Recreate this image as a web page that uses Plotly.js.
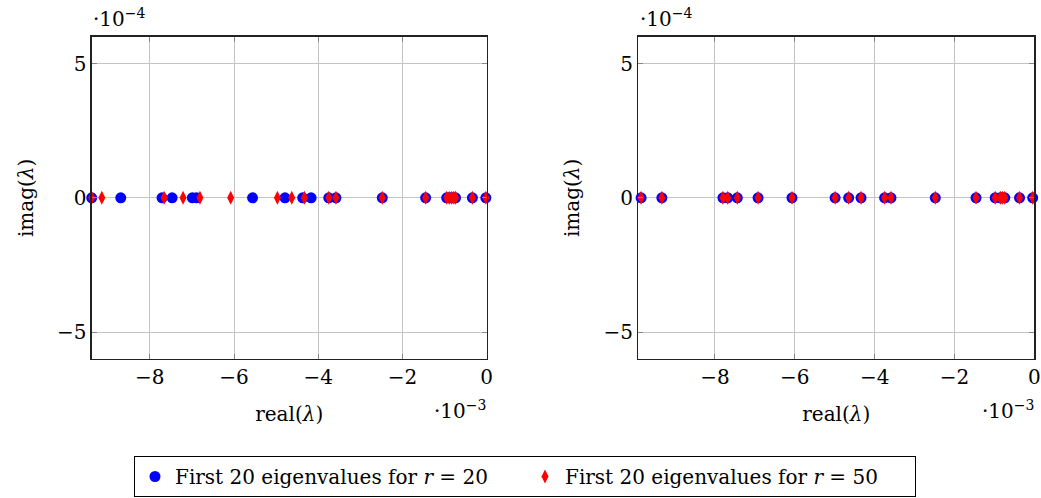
<!DOCTYPE html>
<html>
<head>
<meta charset="utf-8">
<script src="https://cdn.plot.ly/plotly-3.0.1.min.js"></script>
<style>html,body{margin:0;padding:0;background:#fff;}#chart{width:1041px;height:498px;}</style>
</head>
<body>
<div id="chart"></div>
<script>
// Real parts in units of 1e-3, imaginary parts in units of 1e-4 (axis multipliers shown as labels)
const leftReal_r20 = [-9.38, -8.69, -7.71, -7.47, -6.99, -6.89, -5.56, -4.79, -4.37, -4.17,
                      -3.75, -3.58, -2.48, -1.45, -0.95, -0.89, -0.83, -0.74, -0.34, -0.02];
const leftImag_r20 = [0, 0, 0, 0, 0, 0, 0, 0, 0, 0, 0, 0, 0, 0, 0, 0, 0, 0, 0, 0];
const leftReal_r50 = [-9.38, -9.14, -7.66, -7.21, -6.81, -6.08, -4.97, -4.63, -4.33, -3.75,
                      -3.58, -2.48, -1.45, -0.95, -0.89, -0.83, -0.78, -0.74, -0.34, -0.02];
const leftImag_r50 = [0, 0, 0, 0, 0, 0, 0, 0, 0, 0, 0, 0, 0, 0, 0, 0, 0, 0, 0, 0];
const rightReal_r20 = [-9.85, -9.33, -7.80, -7.68, -7.44, -6.92, -6.07, -4.99, -4.65, -4.34,
                       -3.75, -3.59, -2.48, -1.46, -0.98, -0.85, -0.80, -0.74, -0.37, -0.04];
const rightImag_r20 = [0, 0, 0, 0, 0, 0, 0, 0, 0, 0, 0, 0, 0, 0, 0, 0, 0, 0, 0, 0];
const rightReal_r50 = [-9.85, -9.33, -7.80, -7.68, -7.44, -6.92, -6.07, -4.99, -4.65, -4.34,
                       -3.75, -3.59, -2.48, -1.46, -0.98, -0.85, -0.80, -0.74, -0.37, -0.04];
const rightImag_r50 = [0, 0, 0, 0, 0, 0, 0, 0, 0, 0, 0, 0, 0, 0, 0, 0, 0, 0, 0, 0];

const seriesNames = ['First 20 eigenvalues for <i>r</i> = 20', 'First 20 eigenvalues for <i>r</i> = 50'];
const xTicks = [-8, -6, -4, -2, 0];
const yTicks = [-5, 0, 5];
const xMultiplier = '·10<sup>−3</sup>';
const yMultiplier = '·10<sup>−4</sup>';

const FONT = 'DejaVu Serif';
const FS = 20;
const W = 1041, H = 498;

const blueMarker = {symbol: 'circle', size: 11, color: '#0000ff', line: {width: 0}};
const redMarker = {symbol: 'diamond-tall', size: 10, color: '#ff0000', line: {width: 0}};

const traces = [
  {x: leftReal_r20, y: leftImag_r20, xaxis: 'x', yaxis: 'y', mode: 'markers', name: seriesNames[0], marker: blueMarker, cliponaxis: false, showlegend: true},
  {x: leftReal_r50, y: leftImag_r50, xaxis: 'x', yaxis: 'y', mode: 'markers', name: seriesNames[1], marker: redMarker, cliponaxis: false, showlegend: true},
  {x: rightReal_r20, y: rightImag_r20, xaxis: 'x2', yaxis: 'y2', mode: 'markers', name: seriesNames[0], marker: blueMarker, cliponaxis: false, showlegend: false},
  {x: rightReal_r50, y: rightImag_r50, xaxis: 'x2', yaxis: 'y2', mode: 'markers', name: seriesNames[1], marker: redMarker, cliponaxis: false, showlegend: false}
];

function xAxis(domain, range, anchor) {
  return {
    domain: domain, range: range, anchor: anchor,
    tickmode: 'array', tickvals: xTicks, ticktext: xTicks.map(v => v < 0 ? '−' + Math.abs(v) : String(v)),
    showgrid: true, gridcolor: '#c4c4c4', gridwidth: 1, zeroline: false,
    showline: true, linecolor: '#222', linewidth: 1.3, mirror: 'ticks',
    ticks: 'inside', ticklen: 5, tickcolor: '#888', tickwidth: 1,
    tickfont: {family: FONT, size: FS, color: '#000'},
    title: {text: 'real(<i>λ</i>)', font: {family: FONT, size: FS, color: '#000'}, standoff: 18},
    fixedrange: true
  };
}
function yAxis(domain, anchor) {
  return {
    domain: domain, range: [-6, 6], anchor: anchor,
    tickmode: 'array', tickvals: yTicks, ticktext: yTicks.map(v => v < 0 ? '−' + Math.abs(v) : String(v)),
    showgrid: true, gridcolor: '#c4c4c4', gridwidth: 1, zeroline: false,
    showline: true, linecolor: '#222', linewidth: 1.3, mirror: 'ticks',
    ticks: 'inside', ticklen: 5, tickcolor: '#888', tickwidth: 1,
    tickfont: {family: FONT, size: FS, color: '#000'},
    title: {text: 'imag(<i>λ</i>)', font: {family: FONT, size: FS, color: '#000'}, standoff: 18},
    fixedrange: true
  };
}

const yDom = [1 - 359 / H, 1 - 36.7 / H];
const layout = {
  width: W, height: H,
  margin: {l: 0, r: 0, t: 0, b: 0},
  paper_bgcolor: '#fff', plot_bgcolor: '#fff',
  font: {family: FONT, size: FS, color: '#000'},
  xaxis: xAxis([91.7 / W, 486.7 / W], [-9.38, 0], 'y'),
  yaxis: yAxis(yDom, 'x'),
  xaxis2: xAxis([638.3 / W, 1034.3 / W], [-9.92, 0], 'y2'),
  yaxis2: yAxis(yDom, 'x2'),
  showlegend: true,
  legend: {
    orientation: 'h', x: 525 / W, xanchor: 'center', y: 1 - 456 / H, yanchor: 'top',
    bordercolor: '#000', borderwidth: 1, bgcolor: '#fff',
    font: {family: FONT, size: FS, color: '#000'},
    entrywidth: 345, itemwidth: 30
  },
  annotations: [
    {xref: 'paper', yref: 'paper', x: 91 / W, y: 1 - 18 / H, xanchor: 'left', yanchor: 'middle', text: yMultiplier, showarrow: false, font: {family: FONT, size: FS}},
    {xref: 'paper', yref: 'paper', x: 638 / W, y: 1 - 18 / H, xanchor: 'left', yanchor: 'middle', text: yMultiplier, showarrow: false, font: {family: FONT, size: FS}},
    {xref: 'paper', yref: 'paper', x: 488 / W, y: 1 - 410 / H, xanchor: 'right', yanchor: 'middle', text: xMultiplier, showarrow: false, font: {family: FONT, size: FS}},
    {xref: 'paper', yref: 'paper', x: 1036 / W, y: 1 - 410 / H, xanchor: 'right', yanchor: 'middle', text: xMultiplier, showarrow: false, font: {family: FONT, size: FS}}
  ]
};

Plotly.newPlot('chart', traces, layout, {displayModeBar: false, staticPlot: true});
</script>
</body>
</html>
